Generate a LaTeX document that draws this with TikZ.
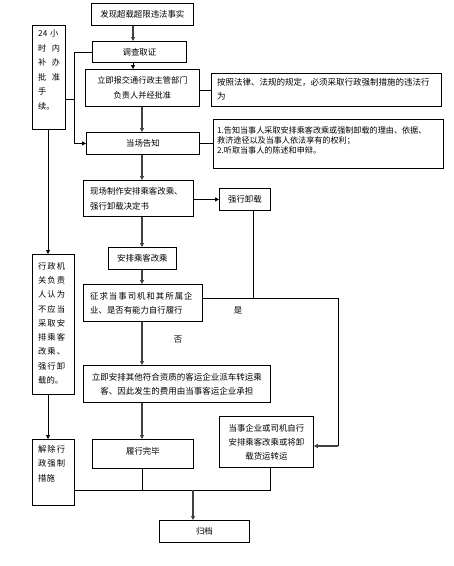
\documentclass[tikz,border=0pt]{standalone}
\usepackage{fontspec}
\newfontfamily\cjk{Noto Sans CJK SC}
\usetikzlibrary{arrows.meta}
\begin{document}
\begin{tikzpicture}[x=1pt,y=-1pt,
  box/.style={draw=black,line width=0.8pt,rectangle,inner sep=0pt,anchor=north west},
  txt/.style={font=\cjk\fontsize{8.4}{14}\selectfont,inner sep=0pt},
  ln/.style={draw=black,line width=0.8pt},
  arr/.style={draw=black!75,line width=1.1pt,-{Triangle[length=4pt,width=4pt]}},
  arrb/.style={draw=black,line width=0.8pt,-{Triangle[length=4pt,width=4pt]}}]
\useasboundingbox (0,0) rectangle (454,566);
% boxes
\node[box,minimum width=102pt,minimum height=22pt] (b1) at (91,3) {};
\node[txt] (t1) at (b1.center) {发现超载超限违法事实};
\node[box,minimum width=94pt,minimum height=21pt] (b2) at (92,41) {};
\node[txt] (t2) at (b2.center) {调查取证};
\node[box,minimum width=114pt,minimum height=37pt] (b3) at (85,69) {};
\node[txt,align=center,font=\cjk\fontsize{8.2}{15}\selectfont] (t3) at (b3.center) {立即报交通行政主管部门\\负责人并经批准};
\node[box,minimum width=33pt,minimum height=104pt] (b4) at (32,25) {};
\node[txt,anchor=north west,align=left,font=\cjk\fontsize{8.2}{14.5}\selectfont] (t4) at (38,30) {24\,\,小\\时\kern5.5pt 内\\补\kern5.5pt 办\\批\kern5.5pt 准\\手\\续。};
\node[box,minimum width=113pt,minimum height=22pt] (b5) at (86,132) {};
\node[txt] (t5) at (b5.center) {当场告知};
\node[box,minimum width=230pt,minimum height=33pt] (r1) at (211,73) {};
\node[txt,anchor=north west,align=left,font=\cjk\fontsize{8.5}{14}\selectfont] (tr1) at (217,78) {按照法律、法规的规定，必须采取行政强制措施的违法行\\为};
\node[box,minimum width=230pt,minimum height=49pt] (r2) at (213,119) {};
\node[txt,anchor=north west,align=left,font=\cjk\fontsize{8.1}{10}\selectfont] (tr2) at (217,126) {1.告知当事人采取安排乘客改乘或强制卸载的理由、依据、\\救济途径以及当事人依法享有的权利；\\2.听取当事人的陈述和申辩。};
\node[box,minimum width=110pt,minimum height=36pt] (b6) at (83,180) {};
\node[txt,anchor=north west,align=left,font=\cjk\fontsize{8.4}{15}\selectfont] (t6) at (90,187) {现场制作安排乘客改乘、\\强行卸载决定书};
\node[box,minimum width=51pt,minimum height=22pt] (b7) at (219,188) {};
\node[txt] (t7) at (b7.center) {强行卸载};
\node[box,minimum width=68pt,minimum height=22pt] (b8) at (108,247) {};
\node[txt] (t8) at (b8.center) {安排乘客改乘};
\node[box,minimum width=119pt,minimum height=37pt] (b9) at (83,284) {};
\node[txt,anchor=north west,align=left,font=\cjk\fontsize{8.4}{14}\selectfont] (t9) at (90,292) {征\kern1pt 求\kern1pt 当\kern1pt 事\kern1pt 司\kern1pt 机\kern1pt 和\kern1pt 其\kern1pt 所\kern1pt 属\kern1pt 企\\业、是否有能力自行履行};
\node[box,minimum width=42pt,minimum height=140pt] (b10) at (32,254) {};
\node[txt,anchor=north west,align=left,font=\cjk\fontsize{8.3}{14.3}\selectfont] (t10) at (38,262) {行\kern1pt 政\kern1pt 机\\关\kern1pt 负\kern1pt 责\\人\kern1pt 认\kern1pt 为\\不\kern1pt 应\kern1pt 当\\采\kern1pt 取\kern1pt 安\\排\kern1pt 乘\kern1pt 客\\改\kern1pt 乘\kern1pt 、\\强\kern1pt 行\kern1pt 卸\\载的。};
\node[box,minimum width=187pt,minimum height=37pt] (b11) at (83,365) {};
\node[txt,align=center,font=\cjk\fontsize{8.5}{14}\selectfont] (t11) at (b11.center) {立即安排其他符合资质的客运企业派车转运乘\\客、因此发生的费用由当事客运企业承担};
\node[box,minimum width=42pt,minimum height=66pt] (b12) at (32,439) {};
\node[txt,anchor=north west,align=left,font=\cjk\fontsize{8.3}{14.5}\selectfont] (t12) at (38,445) {解\kern1pt 除\kern1pt 行\\政\kern1pt 强\kern1pt 制\\措施};
\node[box,minimum width=101pt,minimum height=29pt] (b13) at (92,439) {};
\node[txt] (t13) at ([yshift=2.5pt]b13.center) {履行完毕};
\node[box,minimum width=94pt,minimum height=51pt] (b14) at (219,416) {};
\node[txt,align=center,font=\cjk\fontsize{8.4}{14}\selectfont] (t14) at (b14.center) {当事企业或司机自行\\安排乘客改乘或将卸\\载货运转运};
\node[box,minimum width=90pt,minimum height=22pt] (b15) at (159,520) {};
\node[txt] (t15) at (b15.center) {归档};
\node[txt] (yes) at (238,310) {是};
\node[txt] (no) at (178,340) {否};
% helper coordinates
\coordinate (xa) at (133,0);
\coordinate (xb) at (142,0);
\coordinate (xl) at (74,0);
\coordinate (xq) at (253,0);
\coordinate (xr) at (338,0);
\coordinate (xs) at (270,0);
\coordinate (xm) at (193,0);
\coordinate (ym) at (0,490);
\coordinate (yb) at (0,298);
% connectors
\draw[arr] (b1.south -| xa) -- (b2.north -| xa);
\draw[arrb] (b2.south -| xa) -- (b3.north -| xa);
\draw[arr] (b3.south -| xb) -- (b5.north -| xb);
\draw[arr] (b5.south -| xb) -- (b6.north -| xb);
\draw[arr] (b6.south -| xb) -- (b8.north -| xb);
\draw[arr] (b8.south -| xb) -- (b9.north -| xb);
\draw[arr] (b9.south -| xb) -- (b11.north -| xb);
\draw[arr] (b11.south -| xb) -- (b13.north -| xb);
\draw[ln] (b2.west) -- (b2.west -| xl) -- (b5.west -| xl);
\draw[arrb] (b5.west -| xl) -- (b5.west);
\draw[ln] (b4.east |- 0,99) -- (xl |- 0,99);
\draw[ln] (b3.east |- r1.west) -- (r1.west);
\draw[ln] (b5.east) -- (b5.east -| r2.west);
\draw[arrb] (b6.east |- b7.west) -- (b7.west);
\draw[arrb] (b4.south -| 48,0) -- (b10.north -| 48,0);
\draw[arrb] (b10.south -| 48,0) -- (b12.north -| 48,0);
\draw[ln] (b7.south -| xq) -- (xq |- yb);
\draw[ln] (b9.east |- yb) -- (xr |- yb) -- (xr |- 0,446);
\draw[arr] (xr |- 0,446) -- (b14.east |- 0,446);
\draw[ln] (b12.east |- ym) -- (xs |- ym) -- (b14.south -| xs);
\draw[ln] (b13.south -| xb) -- (xb |- ym);
\draw[arr] (xm |- ym) -- (b15.north -| xm);
\end{tikzpicture}
\end{document}
